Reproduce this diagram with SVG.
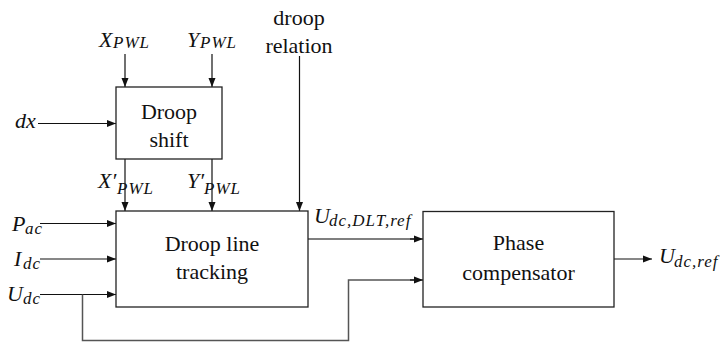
<svg xmlns="http://www.w3.org/2000/svg" width="720" height="343" viewBox="0 0 720 343">
<style>
text{font-family:"Times New Roman",Times,"Liberation Serif","Noto Serif","DejaVu Serif",FreeSerif,"Nimbus Roman",serif;fill:#111}
.box{fill:#fff;stroke:#222;stroke-width:1.3}
.ln{fill:none;stroke:#111;stroke-width:1.2}
.gl{fill:none;stroke:#555;stroke-width:1.5}
.t{font-size:22px}
.mi{font-style:italic;font-size:22px}
.sub{font-style:italic;font-size:17px;letter-spacing:1px}
</style>
<defs>
<marker id="ah" markerUnits="userSpaceOnUse" markerWidth="10" markerHeight="8" refX="9" refY="4" orient="auto">
<path d="M0,0.5 L9,4 L0,7.5 Z" fill="#111"/>
</marker>
</defs>
<g id="connectors">
<line class="ln" x1="125" y1="54" x2="125" y2="87" marker-end="url(#ah)"/>
<line class="ln" x1="212" y1="54" x2="212" y2="87" marker-end="url(#ah)"/>
<line class="ln" x1="38" y1="123.5" x2="116" y2="123.5" marker-end="url(#ah)"/>
<line class="ln" x1="125" y1="159" x2="125" y2="211" marker-end="url(#ah)"/>
<line class="ln" x1="212" y1="159" x2="212" y2="211" marker-end="url(#ah)"/>
<line class="ln" x1="299.5" y1="56" x2="299.5" y2="211" marker-end="url(#ah)"/>
<line class="ln" x1="40" y1="223.5" x2="116" y2="223.5" marker-end="url(#ah)"/>
<line class="ln" x1="40" y1="259" x2="116" y2="259" marker-end="url(#ah)"/>
<line class="ln" x1="40" y1="294.5" x2="116" y2="294.5" marker-end="url(#ah)"/>
<polyline class="gl" points="308,239 414,239"/>
<line class="ln" x1="410" y1="239" x2="423" y2="239" marker-end="url(#ah)"/>
<polyline class="gl" points="82.5,294.5 82.5,340.5 348.5,340.5 348.5,280 414,280"/>
<line class="ln" x1="410" y1="280" x2="423" y2="280" marker-end="url(#ah)"/>
<line class="ln" x1="614" y1="259" x2="652" y2="259" marker-end="url(#ah)"/>
</g>
<g id="droop-shift">
<rect class="box" x="116" y="87" width="106" height="72"/>
<text class="t" x="169" y="118.5" text-anchor="middle">Droop</text>
<text class="t" x="169" y="147" text-anchor="middle">shift</text>
</g>
<g id="droop-line-tracking">
<rect class="box" x="116" y="211" width="192" height="96"/>
<text class="t" x="212" y="251" text-anchor="middle">Droop line</text>
<text class="t" x="212" y="278.5" text-anchor="middle">tracking</text>
</g>
<g id="phase-compensator">
<rect class="box" x="423" y="211.5" width="191" height="95.5"/>
<text class="t" x="518.5" y="250" text-anchor="middle">Phase</text>
<text class="t" x="518.5" y="280" text-anchor="middle">compensator</text>
</g>
<g id="labels">
<text class="mi" x="99" y="46.5">X</text><text class="sub" x="113" y="47.5">PWL</text>
<text class="mi" x="187" y="46.5">Y</text><text class="sub" x="200" y="47.5">PWL</text>
<text class="t" x="299" y="25" text-anchor="middle">droop</text>
<text class="t" x="299" y="53" text-anchor="middle">relation</text>
<text class="mi" x="15" y="128">dx</text>
<text class="mi" x="98" y="188">X′</text><text class="sub" x="117" y="194" letter-spacing="0.5">PWL</text>
<text class="mi" x="187" y="188">Y′</text><text class="sub" x="204" y="194" letter-spacing="0.5">PWL</text>
<text class="mi" x="12" y="231">P</text><text class="sub" x="25" y="234">ac</text>
<text class="mi" x="14" y="266">I</text><text class="sub" x="23" y="269">dc</text>
<text class="mi" x="7" y="301">U</text><text class="sub" x="23" y="304">dc</text>
<text class="mi" x="314" y="223">U</text><text class="sub" x="329" y="226">dc,DLT,ref</text>
<text class="mi" x="659" y="263">U</text><text class="sub" x="674" y="267">dc,ref</text>
</g>
</svg>
